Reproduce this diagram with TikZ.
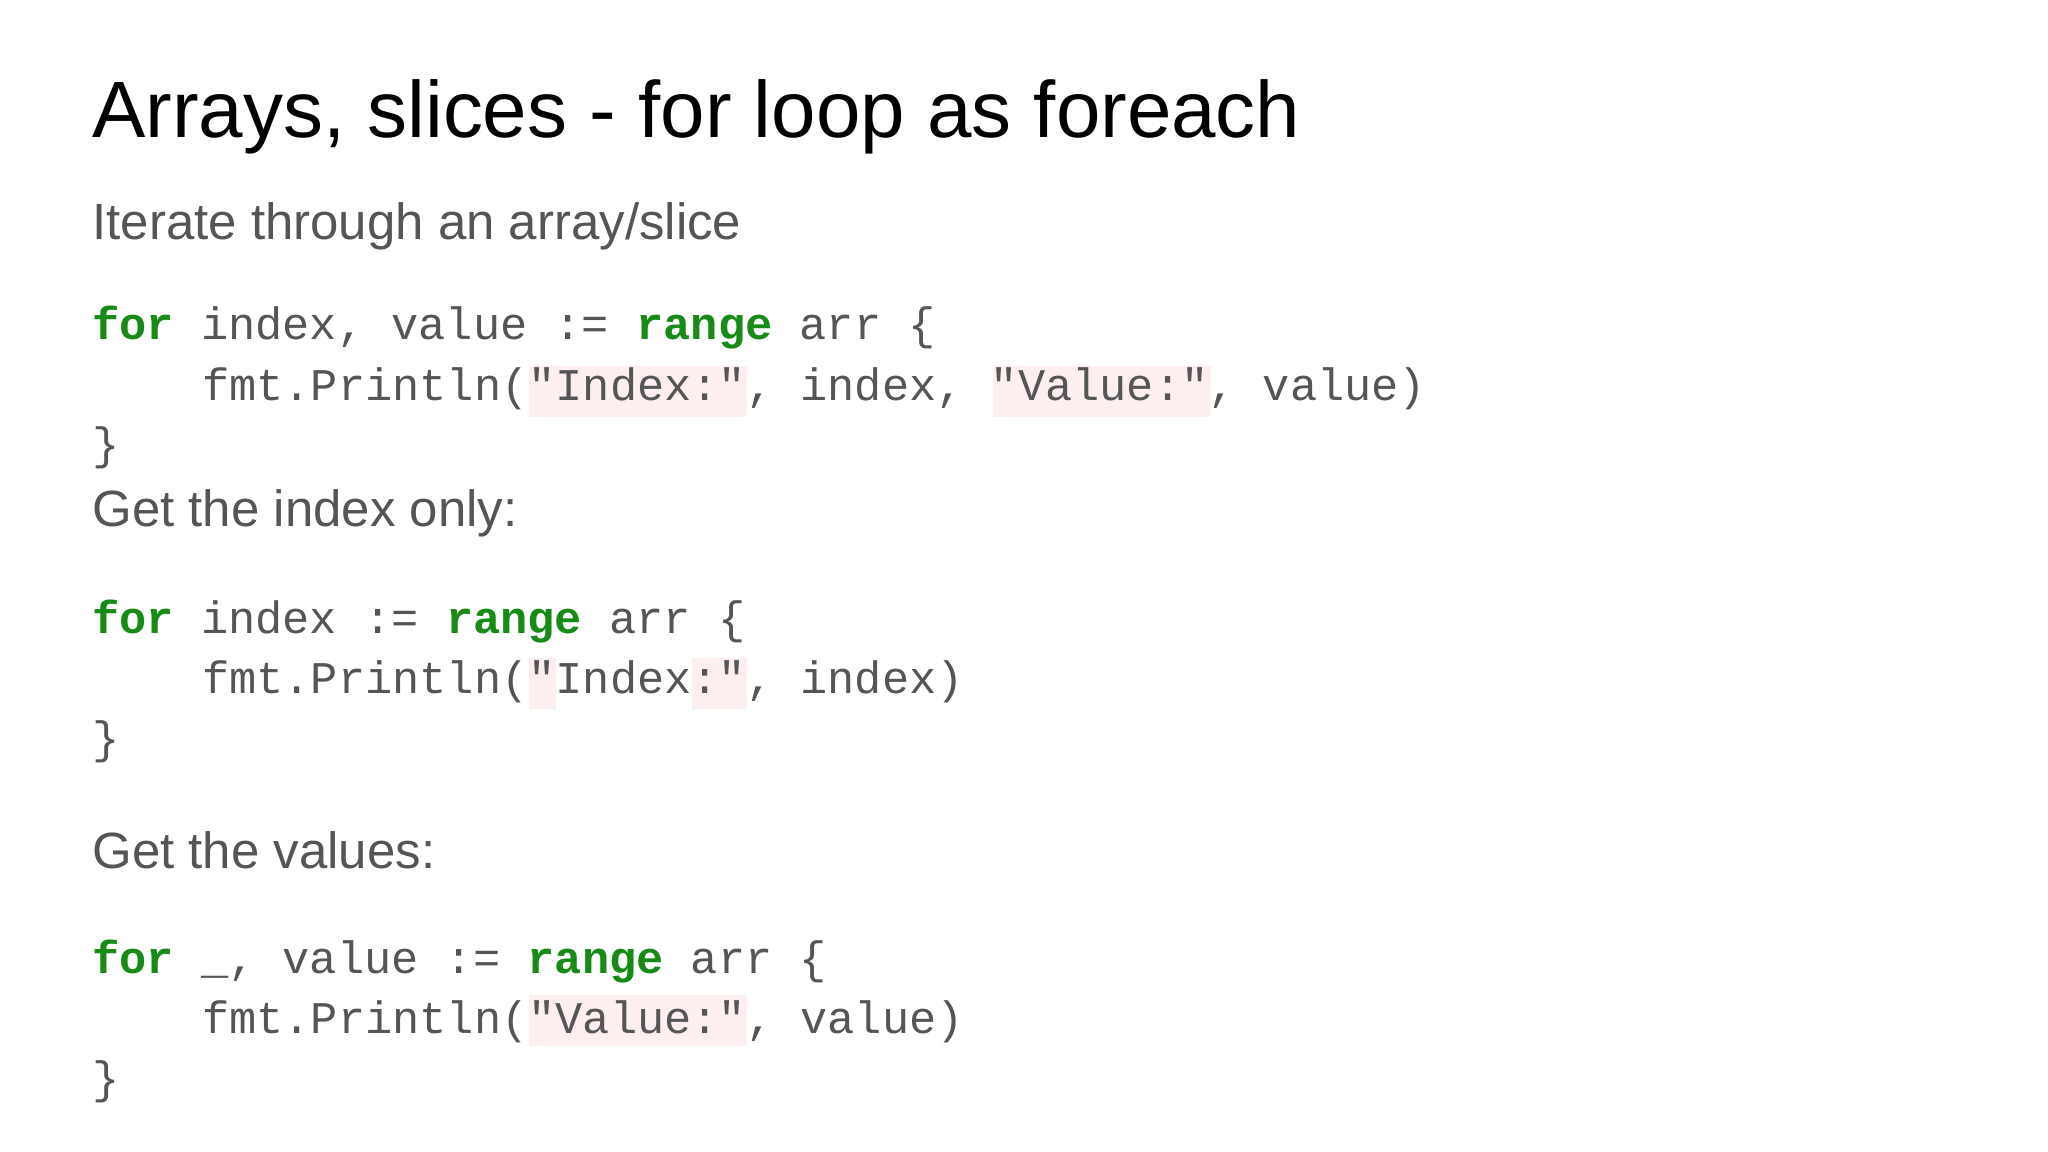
\documentclass[tikz,border=0pt]{standalone}
\usepackage{fontspec}
\setmainfont{Liberation Sans}
\setmonofont{Liberation Mono}
\definecolor{gotext}{HTML}{555555}
\definecolor{gokey}{HTML}{188A18}
\definecolor{gostr}{HTML}{FDEEF0}
\tikzset{
  title/.style={anchor=base west, inner sep=0pt, font=\fontsize{17.4pt}{21pt}\selectfont},
  heading/.style={anchor=base west, inner sep=0pt, text=gotext, font=\fontsize{11.1pt}{13pt}\selectfont},
  code/.style={anchor=base west, inner sep=0pt, text=gotext, font=\ttfamily\fontsize{9.87pt}{12pt}\selectfont},
  strbox/.style={fill=gostr, draw=none}
}
\newcommand{\kw}[1]{\textcolor{gokey}{\textbf{#1}}}
\begin{document}
\begin{tikzpicture}[x=0.01cm, y=-0.01cm]
    \useasboundingbox (0,0) rectangle (1568,882);

    % string highlights
    \fill[strbox] (405,280) rectangle (572,319);
    \fill[strbox] (760,280) rectangle (927,319);
    \fill[strbox] (405,504) rectangle (426,543);
    \fill[strbox] (530,504) rectangle (572,543);
    \fill[strbox] (405,762) rectangle (572,801);

    % title and headings
    \node[title] (title) at (70,105) {Arrays, slices - for loop as foreach};
    \node[heading] (iterate) at (70,183) {Iterate through an array/slice};
    \node[heading] (indexonly) at (70,403) {Get the index only:};
    \node[heading] (values) at (70,665) {Get the values:};

    % first loop
    \node[code] (a1) at (70,260) {\kw{for} index, value := \kw{range} arr \{};
    \node[code] (a2) at (154,307) {fmt.Println("Index:", index, "Value:", value)};
    \node[code] (a3) at (70,352) {\}};

    % second loop
    \node[code] (b1) at (70,485) {\kw{for} index := \kw{range} arr \{};
    \node[code] (b2) at (154,531) {fmt.Println("Index:", index)};
    \node[code] (b3) at (70,577) {\}};

    % third loop
    \node[code] (c1) at (70,745) {\kw{for} \_, value := \kw{range} arr \{};
    \node[code] (c2) at (154,791) {fmt.Println("Value:", value)};
    \node[code] (c3) at (70,837) {\}};
\end{tikzpicture}
\end{document}
